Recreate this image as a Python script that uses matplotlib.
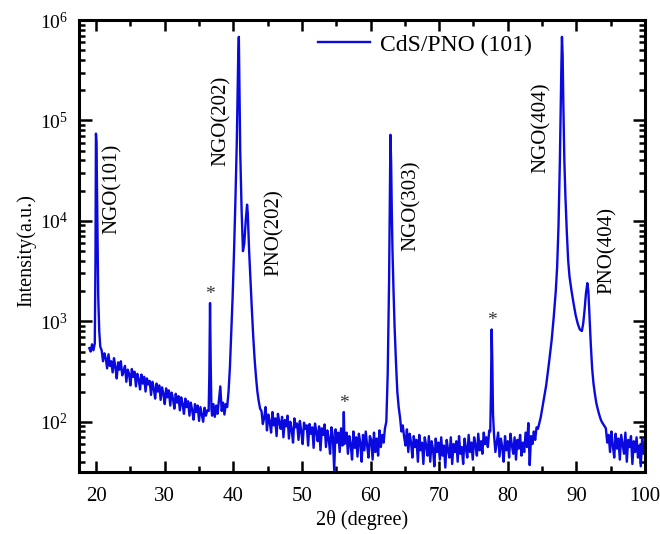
import numpy as np
import matplotlib
matplotlib.use("Agg")
import matplotlib.pyplot as plt
from matplotlib.ticker import LogLocator, LogFormatterMathtext, MultipleLocator, NullFormatter

plt.rcParams['font.family'] = ['Liberation Serif', 'DejaVu Serif']
plt.rcParams['mathtext.fontset'] = 'custom'
plt.rcParams['mathtext.rm'] = 'Liberation Serif'
plt.rcParams['mathtext.it'] = 'Liberation Serif:italic'

# --- data (2theta in degree, counts) ---
# noisy background pieces: (start, end) of the scan range + counts on a 0.2 deg grid
bg_a_range = (19.0, 19.8)
bg_a = [540, 500, 590, 515, 600]

peak_101_x = [19.9, 19.97, 20.05, 20.1, 20.2, 20.3, 20.45, 20.6]
peak_101_y = [4000, 74000, 60000, 30000, 6000, 1800, 800, 560]

bg_b_range = (20.8, 36.2)
bg_b = [515, 400, 480, 430, 340, 470, 360, 400, 310, 430,
        350, 270, 390, 330, 400, 290, 320, 360, 250, 330,
        300, 230, 335, 280, 315, 225, 300, 265, 210, 295,
        240, 280, 200, 270, 235, 255, 185, 250, 215, 170,
        240, 200, 230, 165, 220, 190, 150, 215, 175, 205,
        145, 195, 170, 135, 190, 155, 180, 130, 175, 150,
        120, 170, 140, 160, 115, 155, 130, 105, 150, 125,
        145, 102, 140, 118, 100, 138, 115, 130]

star_1_x = [36.4, 36.5, 36.6, 36.7, 36.8]
star_1_y = [128, 300, 1520, 380, 135]

bg_c_range = (36.9, 39.1)
bg_c = [115, 150, 112, 145, 120, 165, 225, 128, 155, 118, 150, 140]

peak_202_x = [39.3, 39.5, 39.7, 39.9, 40.1, 40.3, 40.5, 40.7, 40.8, 40.9,
              41.0, 41.2, 41.4, 41.6, 41.8, 42.0, 42.1, 42.3, 42.5, 42.7,
              42.9, 43.1, 43.3, 43.5, 43.7, 43.9]
peak_202_y = [200, 350, 800, 1800, 5000, 16000, 60000, 400000, 680000, 200000,
              50000, 13000, 5000, 6000, 10000, 14500, 12000, 5000, 2500, 1300,
              700, 420, 280, 200, 160, 135]

bg_d1_range = (44.1, 55.9)
bg_d1 = [128, 95, 110, 140, 82, 118, 100, 78, 125, 92,
         108, 72, 120, 98, 85, 112, 70, 104, 90, 115,
         68, 100, 84, 62, 108, 88, 96, 66, 102, 80,
         60, 98, 85, 92, 58, 95, 76, 88, 55, 96,
         80, 64, 90, 52, 86, 74, 94, 56, 82, 68,
         48, 88, 72, 33, 84, 62, 78, 50, 86, 58]

star_2_x = [56.0, 56.1, 56.2]
star_2_y = [62, 125, 60]

bg_d2_range = (56.3, 62.1)
bg_d2 = [66, 78, 48, 72, 60, 42, 80, 55, 70, 45,
         76, 62, 40, 74, 52, 80, 58, 44, 72, 66,
         42, 78, 50, 68, 46, 82, 56, 74, 62, 86]

peak_303_x = [62.3, 62.5, 62.7, 62.8, 62.9, 63.0, 63.1, 63.2, 63.35, 63.5,
              63.7, 63.9, 64.1, 64.3, 64.5]
peak_303_y = [100, 300, 2500, 12000, 72000, 38000, 12000, 5000, 2000, 900,
              400, 200, 140, 110, 80]

bg_e_range = (64.7, 77.3)
bg_e = [92, 70, 58, 84, 50, 76, 62, 44, 72, 56,
        66, 40, 74, 52, 62, 38, 70, 58, 46, 72,
        40, 64, 54, 36, 68, 50, 62, 42, 70, 46,
        58, 35, 66, 52, 44, 70, 38, 60, 50, 64,
        40, 72, 48, 56, 38, 68, 54, 44, 74, 50,
        62, 42, 70, 58, 46, 76, 52, 64, 48, 78,
        60, 70, 56, 82]

star_3_x = [77.45, 77.55, 77.65, 77.75, 77.85]
star_3_y = [80, 200, 830, 400, 120]

bg_f_range = (78.0, 84.2)
bg_f = [74, 50, 62, 78, 45, 68, 56, 40, 72, 52,
        64, 44, 76, 58, 48, 70, 42, 66, 54, 74,
        46, 62, 50, 78, 56, 97, 37, 72, 60, 80,
        66, 88]

peak_404_x = [84.4, 84.8, 85.2, 85.6, 86.0, 86.4, 86.7, 87.0, 87.2, 87.4,
              87.6, 87.8, 87.9, 88.0, 88.1, 88.25, 88.4, 88.6, 88.8, 89.0,
              89.3, 89.6, 89.9, 90.2, 90.5, 90.8, 91.0, 91.2, 91.4, 91.6,
              91.75, 91.9, 92.1, 92.3, 92.5, 92.7, 92.9, 93.1, 93.3, 93.5,
              93.7, 93.9, 94.1]
peak_404_y = [85, 110, 160, 230, 380, 650, 1100, 2000, 3500, 9000,
              40000, 300000, 680000, 450000, 150000, 40000, 18000, 8000, 4100, 2800,
              2000, 1500, 1150, 950, 830, 800, 950, 1300, 1900, 2400,
              2000, 1200, 600, 340, 240, 190, 155, 135, 120, 108,
              100, 95, 90]

bg_g_range = (94.3, 100.0)
bg_g = [86, 62, 74, 50, 80, 58, 44, 76, 54, 68,
        42, 74, 60, 48, 78, 40, 66, 56, 72, 38,
        64, 50, 70, 44, 58, 36, 68, 48, 62]

labels = ["NGO(101)", "NGO(202)", "PNO(202)", "NGO(303)", "NGO(404)", "PNO(404)"]
label_x = [22.3, 38.2, 45.9, 65.9, 84.9, 94.5]
label_y = [2.1e4, 9.8e4, 7.7e3, 1.4e4, 8.4e4, 5.1e3]

star_x = [36.6, 56.1, 77.7]
star_y = [1520, 125, 830]


def grid(rng, vals):
    return np.linspace(rng[0], rng[1], len(vals))


pieces = [
    (grid(bg_a_range, bg_a), bg_a),
    (peak_101_x, peak_101_y),
    (grid(bg_b_range, bg_b), bg_b),
    (star_1_x, star_1_y),
    (grid(bg_c_range, bg_c), bg_c),
    (peak_202_x, peak_202_y),
    (grid(bg_d1_range, bg_d1), bg_d1),
    (star_2_x, star_2_y),
    (grid(bg_d2_range, bg_d2), bg_d2),
    (peak_303_x, peak_303_y),
    (grid(bg_e_range, bg_e), bg_e),
    (star_3_x, star_3_y),
    (grid(bg_f_range, bg_f), bg_f),
    (peak_404_x, peak_404_y),
    (grid(bg_g_range, bg_g), bg_g),
]
two_theta = np.concatenate([np.asarray(p[0], float) for p in pieces])
counts = np.concatenate([np.asarray(p[1], float) for p in pieces])

fig = plt.figure(figsize=(6.6, 5.34), dpi=100)
ax = fig.add_axes([0.1197, 0.1161, 0.8575, 0.8464])

ax.plot(two_theta, counts, color='#0a0ae0', lw=1.7, label='CdS/PNO (101)')
ax.set_yscale('log')
ax.set_xlim(17.5, 100)
ax.set_ylim(31.6, 1e6)

ax.xaxis.set_major_locator(MultipleLocator(10))
ax.xaxis.set_minor_locator(MultipleLocator(5))
ax.yaxis.set_major_locator(LogLocator(base=10, numticks=10))
ax.yaxis.set_minor_locator(LogLocator(base=10, subs=np.arange(2, 10), numticks=20))
ax.yaxis.set_major_formatter(LogFormatterMathtext())
ax.yaxis.set_minor_formatter(NullFormatter())

ax.tick_params(which='both', direction='in', top=True, right=True, width=1.8)
ax.tick_params(which='major', length=8)
ax.tick_params(which='minor', length=4.5)
ax.tick_params(axis='x', which='major', labelsize=15, pad=10.5)
ax.tick_params(axis='y', which='major', length=9, labelsize=14, pad=8)
for s in ax.spines.values():
    s.set_linewidth(2.2)

ax.set_xlabel('2θ (degree)', fontsize=14.5, labelpad=3)
ax.set_ylabel('Intensity(a.u.)', fontsize=14.5)
ax.yaxis.set_label_coords(-0.075, 0.491)

for t, x, y in zip(labels, label_x, label_y):
    ax.text(x, y, t, rotation=90, ha='center', va='center', fontsize=15)
for x, y in zip(star_x, star_y):
    ax.text(x, y, '*', ha='center', va='bottom', fontsize=14, color='#333333')

ax.legend(loc='center', bbox_to_anchor=(0.611, 0.945), frameon=False, fontsize=17,
          handlelength=2.2, handletextpad=0.45)

fig.savefig('out.png', dpi=100)
